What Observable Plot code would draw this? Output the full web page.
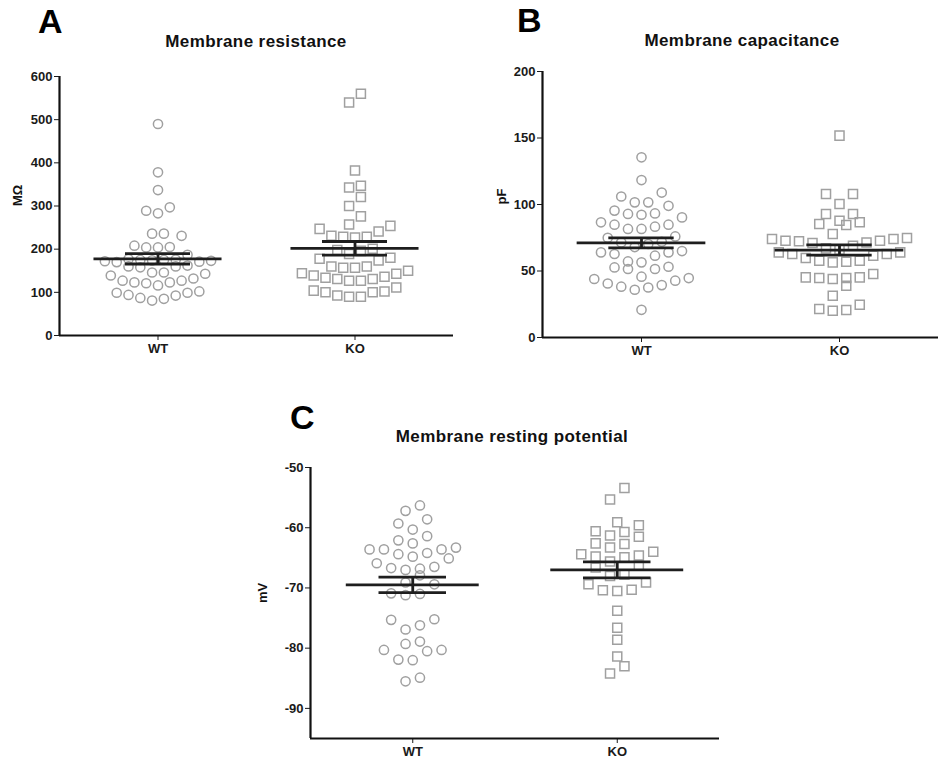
<!DOCTYPE html>
<html>
<head>
<meta charset="utf-8">
<script src="https://cdn.jsdelivr.net/npm/d3@7"></script>
<script src="https://cdn.jsdelivr.net/npm/@observablehq/plot@0.6"></script>
<style>
  html, body { margin: 0; padding: 0; background: #fff; }
  #root { position: relative; width: 939px; height: 762px; overflow: hidden; background: #fff; }
  #root svg.panel { position: absolute; }
  #overlay { position: absolute; left: 0; top: 0; pointer-events: none; }
</style>
</head>
<body>
<div id="root"></div>
<script>
// ---------------- data ----------------
const groups = ["WT", "KO"];
const panelLetters = ["A", "B", "C"];
const titles = ["Membrane resistance", "Membrane capacitance", "Membrane resting potential"];
const units = ["MΩ", "pF", "mV"];

const resistanceWT = [490, 378, 337, 289, 283, 297, 236, 236, 231, 208, 204, 204, 205,
  187, 177, 175, 175, 170, 171, 172, 173, 174, 176, 160, 162, 158, 160,
  146, 139, 127, 123, 121, 116, 123, 127, 132, 143, 146,
  99, 94, 87, 81, 85, 92.5, 99, 102];
const resistanceKO = [560, 540, 382, 347, 343, 321, 300, 276, 257, 247, 241, 254,
  229, 231, 227, 229, 189, 198, 201, 196, 178, 174, 180, 160, 157, 160,
  150, 143, 136, 131, 127, 127, 131, 134, 139, 144, 157,
  104, 100, 92.5, 90, 90, 100, 102, 111];

const capacitanceWT = [135.5, 118.4, 109, 106, 101.6, 99, 101.6, 95.4, 92.9, 90.3, 92.3, 93.3,
  84.8, 81.6, 86.6, 83.3, 84.8, 81.6, 70.3, 71.5, 76, 75, 72, 68,
  61.5, 65, 64, 62.8, 64, 56.5, 52.7, 51.5, 51.5, 53.2, 57.2,
  44.7, 42.7, 39.4, 37.6, 35.9, 38.2, 40.6, 44, 45.7, 20.8];
const capacitanceKO = [151.8, 107.9, 107.9, 100.4, 92.9, 92.9, 87.8, 85.4, 84.6, 86.6,
  77.8, 74.1, 72.8, 72.3, 71.5, 72.8, 74.1, 74.8, 71, 69, 67, 66,
  64, 62.8, 61.5, 62.8, 64, 57.7, 57, 56.5, 57.7, 59.7,
  45.2, 44.7, 44, 44.7, 45.2, 47.7, 38.9, 31.4, 21.4, 20.1, 20.6, 24.6];

const potentialWT = [-56.3, -57.2, -58.6, -59.3, -60.3, -61.4, -62.1, -62.6,
  -63.6, -63.6, -63.3, -63.6, -64.2, -64.8, -64.4, -65.1,
  -65.9, -66.7, -67.0, -66.8, -66.5, -67.9, -69.1, -69.4, -70.9, -71.2, -71.0,
  -75.2, -75.3, -76.2, -76.9, -78.9, -79.3, -80.3, -80.5, -80.3, -81.9, -82.0, -84.9, -85.5];
const potentialKO = [-53.4, -55.3, -59.1, -59.6, -60.6, -60.7, -61.3, -61.5, -62.6, -62.7,
  -63.3, -64.0, -64.6, -64.4, -64.9, -64.8, -65.6, -66.3, -66.6, -67.8, -68.0,
  -69.1, -70.3, -70.5, -70.4, -69.4, -73.8, -76.6, -78.6, -81.4, -83.0, -84.2];

const resistanceTicks = [0, 100, 200, 300, 400, 500, 600];
const capacitanceTicks = [0, 50, 100, 150, 200];
const potentialTicks = [-90, -80, -70, -60, -50];

// ---------------- layout ----------------
const layout = [
  {left: 0,   top: 0,   width: 460, height: 362, mt: 76, mb: 27, ml: 59, mr: 7,  domain: [0, 600],   sepX: 11.8, rowH: 12, labelDx: -42},
  {left: 470, top: 0,   width: 469, height: 362, mt: 71, mb: 25, ml: 72, mr: 1,  domain: [0, 200],   sepX: 13.5, rowH: 12, labelDx: -41},
  {left: 250, top: 420, width: 480, height: 342, mt: 47, mb: 24, ml: 60, mr: 11, domain: [-95, -50], sepX: 14.4, rowH: 12, labelDx: -48}
];
const xDomain = [-0.5, 1.5];
const dotColor = "#a0a0a0";
const barColor = "#1e1e1e";
const axisColor = "#111";

// scatter-dot layout: values grouped into rows; within a row, the lowest
// value sits in the centre and the others alternate outwards
function swarmRows(values, center, pxPerUnit, yPx, sepX, rowH) {
  const sorted = values.slice().sort((a, b) => a - b);
  const out = [];
  let i = 0;
  while (i < sorted.length) {
    const startPx = yPx(sorted[i]);
    let j = i;
    while (j < sorted.length && startPx - yPx(sorted[j]) < rowH) j++;
    const row = sorted.slice(i, j);
    const n = row.length;
    const slots = d3.range(n).map(k => k - (n - 1) / 2)
      .sort((a, b) => (Math.abs(a) - Math.abs(b)) || (a - b));
    row.forEach((v, k) => out.push({value: v, x: center + slots[k] * sepX / pxPerUnit}));
    i = j;
  }
  return out;
}

function makePanel(cfg, wt, ko, ticks, unit) {
  const {width, height, mt, mb, ml, mr, domain} = cfg;
  const pxPerUnit = (width - ml - mr) / (xDomain[1] - xDomain[0]);
  const yPx = v => mt + (domain[1] - v) / (domain[1] - domain[0]) * (height - mt - mb);
  const wtPts = swarmRows(wt, 0, pxPerUnit, yPx, cfg.sepX, cfg.rowH);
  const koPts = swarmRows(ko, 1, pxPerUnit, yPx, cfg.sepX, cfg.rowH);
  const stats = [wt, ko].map((vals, i) => {
    const m = d3.mean(vals), s = d3.deviation(vals) / Math.sqrt(vals.length);
    return {i, mean: m, lo: m - s, hi: m + s};
  });
  const svg = Plot.plot({
    width, height, marginTop: mt, marginBottom: mb, marginLeft: ml, marginRight: mr,
    style: {fontFamily: "'Liberation Sans', Arial, sans-serif", fontSize: "13px", fontWeight: "bold",
            color: "#1a1a1a", background: "transparent", overflow: "visible"},
    x: {domain: xDomain, ticks: [0, 1], tickFormat: i => groups[i], tickSize: 5, tickPadding: 3, label: null},
    y: {domain, ticks, tickFormat: d => String(d), tickSize: 5, tickPadding: 2, label: null},
    marks: [
      Plot.dot(wtPts, {x: "x", y: "value", symbol: "circle", r: 4.6, stroke: dotColor, strokeWidth: 1.5, fill: "none"}),
      Plot.dot(koPts, {x: "x", y: "value", symbol: "square", r: 5.1, stroke: dotColor, strokeWidth: 1.5, fill: "none"}),
      Plot.ruleY(stats, {y: "mean", x1: d => d.i - 0.325, x2: d => d.i + 0.325, stroke: barColor, strokeWidth: 2.8}),
      Plot.ruleY(stats, {y: "hi", x1: d => d.i - 0.165, x2: d => d.i + 0.165, stroke: barColor, strokeWidth: 2.8}),
      Plot.ruleY(stats, {y: "lo", x1: d => d.i - 0.165, x2: d => d.i + 0.165, stroke: barColor, strokeWidth: 2.8}),
      Plot.ruleX(stats, {x: "i", y1: "lo", y2: "hi", stroke: barColor, strokeWidth: 2.8}),
      Plot.ruleX([xDomain[0]], {stroke: axisColor, strokeWidth: 2.2}),
      Plot.ruleY([domain[0]], {stroke: axisColor, strokeWidth: 2.2}),
      Plot.text([unit], {text: d => d, frameAnchor: "left", dx: cfg.labelDx, rotate: -90,
                         fontSize: 13, fontWeight: "bold", fill: "#111"})
    ]
  });
  svg.classList.add("panel");
  svg.style.left = cfg.left + "px";
  svg.style.top = cfg.top + "px";
  return svg;
}

const root = document.getElementById("root");
root.appendChild(makePanel(layout[0], resistanceWT, resistanceKO, resistanceTicks, units[0]));
root.appendChild(makePanel(layout[1], capacitanceWT, capacitanceKO, capacitanceTicks, units[1]));
root.appendChild(makePanel(layout[2], potentialWT, potentialKO, potentialTicks, units[2]));

// titles and panel letters
const overlay = d3.select(root).append("svg").attr("id", "overlay")
  .attr("width", 939).attr("height", 762)
  .style("font-family", "'Liberation Sans', Arial, sans-serif").style("font-weight", "bold");
const letterPos = [[38, 33], [517, 32], [290, 429]];
const titlePos = [[256, 47], [742, 46], [512, 442]];
overlay.selectAll("text.letter").data(panelLetters).join("text").attr("class", "letter")
  .attr("x", (d, i) => letterPos[i][0]).attr("y", (d, i) => letterPos[i][1])
  .attr("font-size", 34).attr("fill", "#000").text(d => d);
overlay.selectAll("text.title").data(titles).join("text").attr("class", "title")
  .attr("x", (d, i) => titlePos[i][0]).attr("y", (d, i) => titlePos[i][1])
  .attr("text-anchor", "middle").attr("font-size", 17).attr("letter-spacing", 0.4)
  .attr("fill", "#111").text(d => d);
</script>
</body>
</html>
